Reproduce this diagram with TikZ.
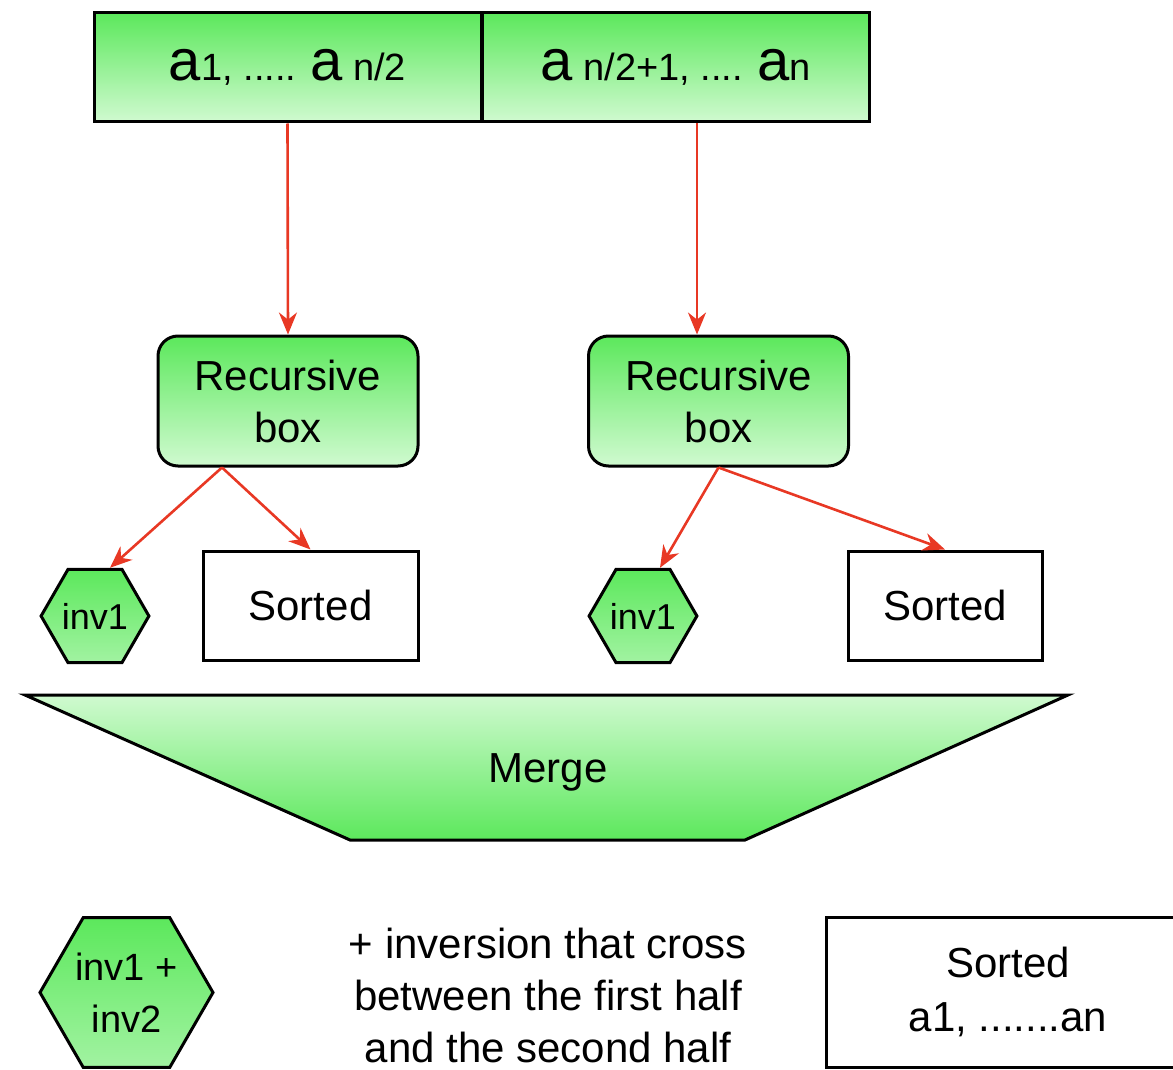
\documentclass[tikz,border=0pt]{standalone}
\usepackage{fontspec}
\setmainfont{Liberation Sans}
\usetikzlibrary{arrows.meta, positioning, shapes.geometric}
\definecolor{gdark}{RGB}{92,232,92}
\definecolor{glight}{RGB}{208,250,208}
\definecolor{arrred}{RGB}{232,56,36}
\newcommand{\bigletter}{\fontsize{29}{32}\selectfont}

\begin{document}
\begin{tikzpicture}[x=0.5pt, y=-0.5pt,
    topbox/.style={draw, line width=1.5pt, top color=gdark, bottom color=glight, minimum width=193.5pt, minimum height=54.5pt, inner sep=0pt, font=\fontsize{19}{22}\selectfont},
    recbox/.style={draw, line width=1.5pt, rounded corners=10pt, top color=gdark, bottom color=glight, minimum width=130pt, minimum height=65pt, align=center, font=\fontsize{21}{26}\selectfont},
    hexbox/.style={draw, line width=1.5pt, regular polygon, regular polygon sides=6, top color=gdark, bottom color=glight!60!gdark, inner sep=0pt, font=\fontsize{18}{22}\selectfont},
    sortbox/.style={draw, line width=1.5pt, fill=white, minimum height=54.5pt, align=center, font=\fontsize{21}{26}\selectfont},
    redarrow/.style={-{Stealth[length=11pt, width=9pt]}, line width=1.3pt, arrred}
]
    \useasboundingbox (0,0) rectangle (1173,1070);

    % Input array
    \node[topbox] (topl) at (287.5,67.5) {{\bigletter a}1, ..... {\bigletter a} n/2};
    \node[topbox] (topr) at (675.5,67.5) {{\bigletter a} n/2+1, .... {\bigletter a}n};

    % Recursive calls
    \node[recbox] (recl) at (288,401) {Recursive\\box};
    \node[recbox] (recr) at (718.5,401) {Recursive\\box};

    % Results of the halves
    \node[hexbox, minimum size=50pt] (invl) at (95,616) {inv1};
    \node[sortbox, minimum width=107.5pt] (sortl) at (310.5,605.5) {Sorted};
    \node[hexbox, minimum size=50pt] (invr) at (643,616) {inv1};
    \node[sortbox, minimum width=97pt] (sortr) at (945,605.5) {Sorted};

    \draw[redarrow] (topl.south) -- (recl.north);
    \draw[redarrow] ([xshift=10.75pt]topr.south) -- ([xshift=-10.75pt]recr.north);
    \draw[redarrow] ([xshift=-33pt]recl.south) -- ([xshift=7.5pt]invl.north);
    \draw[redarrow] ([xshift=-33pt]recl.south) -- (sortl.north);
    \draw[redarrow] (recr.south) -- ([xshift=8.5pt]invr.north);
    \draw[redarrow] (recr.south) -- (sortr.north);

    % Merge step
    \draw[line width=1.5pt, top color=glight, bottom color=gdark] (25,695) -- (1068,695) -- (745,840) -- (350,840) -- cycle;
    \node[font=\fontsize{21}{26}\selectfont] (merge) at (548,772) {Merge};

    % Output
    \node[hexbox, minimum size=86.5pt, align=center, font=\fontsize{19}{26}\selectfont] (invsum) at (126.5,992.5) {inv1 +\\inv2};
    \node[align=center, font=\fontsize{21}{26}\selectfont] (cross) at (548,995) {+ inversion that cross\\between the first half\\and the second half};
    \node[sortbox, minimum width=182pt, minimum height=75pt, font=\fontsize{21}{27}\selectfont] (sortall) at (1008,992) {Sorted\\a1, .......an};
\end{tikzpicture}
\end{document}
